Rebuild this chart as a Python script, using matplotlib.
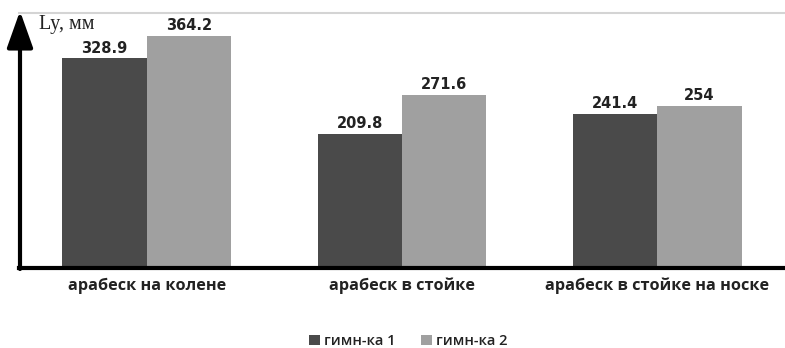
import matplotlib
matplotlib.use("Agg")
import matplotlib.pyplot as plt
import numpy as np

categories = ["арабеск на колене", "арабеск в стойке", "арабеск в стойке на носке"]
series_names = ["гимн-ка 1", "гимн-ка 2"]
gymnast1 = [328.9, 209.8, 241.4]
gymnast2 = [364.2, 271.6, 254]
value_labels1 = ["328.9", "209.8", "241.4"]
value_labels2 = ["364.2", "271.6", "254"]

W, H = 785, 348
fig = plt.figure(figsize=(W / 100, H / 100), dpi=100)
ax = fig.add_axes([19 / W, 80 / H, (W - 19) / W, (268 - 13) / H])

x = np.arange(len(categories))
bw = 0.33
b1 = ax.bar(x - bw / 2, gymnast1, bw, color="#4a4a4a", label=series_names[0])
b2 = ax.bar(x + bw / 2, gymnast2, bw, color="#a0a0a0", label=series_names[1])
for bars, labs in ((b1, value_labels1), (b2, value_labels2)):
    texts = ax.bar_label(bars, labels=labs, padding=2, color="#222222")
    for t in texts:
        t.set_fontfamily("DejaVu Sans")
        t.set_fontweight("bold")
        t.set_fontsize(10.5)

ax.set_xlim(-0.5, 2.5)
ax.set_ylim(0, 400)
ax.set_yticks([])
ax.set_xticks(x)
ax.set_xticklabels(categories, fontsize=11.7, fontweight="bold",
                   family="Open Sans", color="#222222")
ax.tick_params(axis="x", length=0, pad=7)
for s in ["left", "right"]:
    ax.spines[s].set_visible(False)
ax.spines["top"].set_color("#d4d4d4")
ax.spines["top"].set_linewidth(1.5)
ax.spines["bottom"].set_linewidth(3)
ax.spines["bottom"].set_color("black")

# y-axis arrow
ax.annotate("", xy=(20 / W, 1 - 11 / H), xytext=(20 / W, 1 - 269 / H),
            xycoords="figure fraction", textcoords="figure fraction",
            arrowprops=dict(arrowstyle="-|>,head_length=0.9,head_width=0.32",
                            lw=3, color="black", mutation_scale=25,
                            shrinkA=0, shrinkB=0))
fig.text(39 / W, 1 - 24 / H, "Ly, мм", family="Liberation Serif",
         fontsize=14.5, va="center", ha="left", color="#222222")

leg = fig.legend(handles=[b1, b2], labels=series_names, loc="center",
                 bbox_to_anchor=(0.52, 1 - 341 / H), ncol=2, frameon=False,
                 prop={"family": "Open Sans", "size": 10.5, "weight": "semibold"},
                 handlelength=0.75, handleheight=0.75, handletextpad=0.3,
                 columnspacing=1.7)
for t in leg.get_texts():
    t.set_color("#222222")

fig.savefig("out.png", dpi=100)
